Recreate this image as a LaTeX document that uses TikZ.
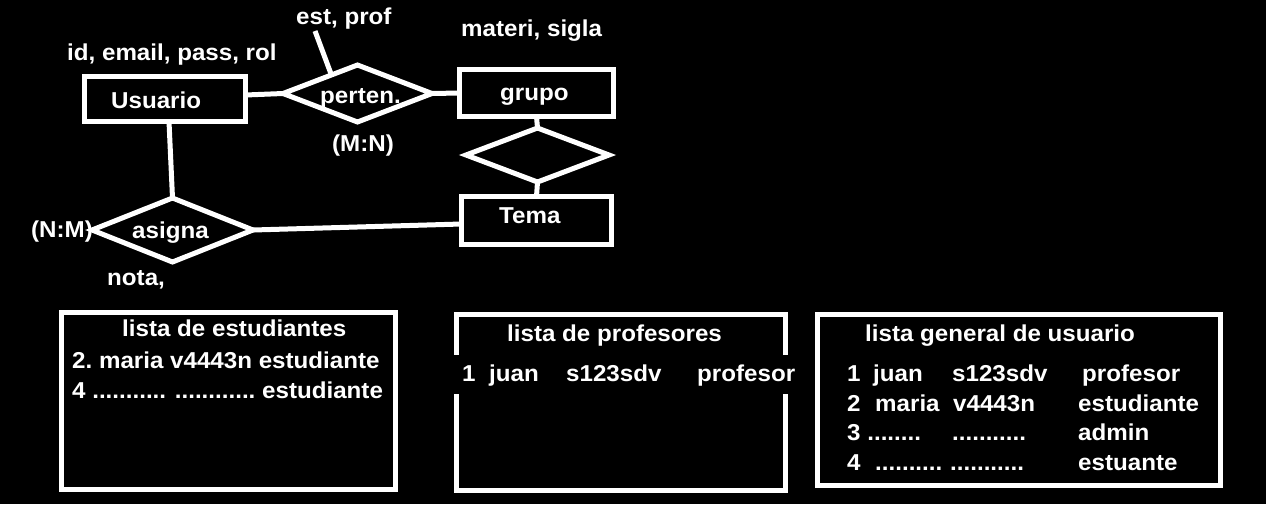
\documentclass[tikz,border=0pt]{standalone}
\usepackage{fontspec}
\setmainfont{Liberation Sans}[FakeStretch=1.05]
\usetikzlibrary{shapes.geometric,calc}
\frenchspacing
\begin{document}
\begin{tikzpicture}[x=1pt,y=-1pt,
  ln/.style={draw=white, line width=5pt},
  ent/.style={draw=white, line width=5pt, inner sep=0pt, outer sep=0pt},
  relbox/.style={shape=diamond, draw=white, line width=5pt, inner sep=0pt, outer sep=0pt},
  txt/.style={text=white, font=\bfseries\fontsize{23}{27}\selectfont, inner sep=0pt, anchor=base west},
  panel/.style={draw=white, line width=5pt, inner sep=0pt, outer sep=0pt}
]
\fill[black] (0,0) rectangle (1266,504);
\useasboundingbox (0,0) rectangle (1266,504);

% entities
\node[ent, minimum width=161pt, minimum height=45pt] (usuario) at (165,99) {};
\node[ent, minimum width=154pt, minimum height=47pt] (grupo) at (536.5,93) {};
\node[ent, minimum width=150pt, minimum height=48pt] (tema) at (536.5,220.5) {};

% relationships
\node[relbox, aspect=2.6, minimum width=149pt, minimum height=57pt] (perten) at (357.5,93.5) {};
\node[relbox, aspect=2.5, minimum width=161pt, minimum height=64pt] (asigna) at (172.5,230) {};
\node[relbox, aspect=2.65, minimum width=143pt, minimum height=54pt] (relgt) at (537.5,155) {};

% connectors
\draw[ln] ([yshift=4pt]usuario.east) -- (perten.west);
\draw[ln] (perten.east) -- (grupo.west);
\coordinate (epend) at (315,31);
\draw[ln] (epend) -- ($(perten.west)!0.65!(perten.north)$);
\draw[ln] (grupo.south) -- (relgt.north);
\draw[ln] (relgt.south) -- (tema.north);
\draw[ln] ([xshift=4pt]usuario.south) -- (asigna.north);
\draw[ln] (asigna.east) -- ([yshift=-3.5pt]tema.west);

% labels of diagram
\node[txt] (tusuario) at (111,108) {Usuario};
\node[txt] (tgrupo) at (500,100) {grupo};
\node[txt] (ttema) at (499,223) {Tema};
\node[txt] (tperten) at (320,103) {perten.};
\node[txt] (tasigna) at (132,238) {asigna};
\node[txt] (attu) at (67,60) {id, email, pass, rol};
\node[txt] (attp) at (296,24) {est, prof};
\node[txt] (attg) at (461,36) {materi, sigla};
\node[txt] (cardp) at (332,151) {(M:N)};
\node[txt] (carda) at (31,237) {(N:M)};
\node[txt] (atta) at (107,285) {nota,};

% panels
\node[panel, minimum width=334pt, minimum height=177pt] (pest) at (228.5,401) {};
\node[panel, minimum width=329pt, minimum height=176pt] (pprof) at (621,402.5) {};
\node[panel, minimum width=403pt, minimum height=171pt] (pgen) at (1019,400) {};
\node[fill=black, inner sep=0pt, minimum width=345pt, minimum height=39pt, anchor=west] (pmask) at (450,374.5) {};

% panel 1
\node[txt] (t1) at (122,336) {lista de estudiantes};
\node[txt] (e1) at (72,368.5) {2. maria v4443n estudiante};
\node[txt] (e2) at (72,398.5) {4 ........... \hspace{2pt}............ estudiante};

% panel 2
\node[txt] (t2) at (507,341.5) {lista de profesores};
\node[txt] (p1) at (462,381.5) {1};
\node[txt] (p2) at (489,381.5) {juan};
\node[txt] (p3) at (566,381.5) {s123sdv};
\node[txt] (p4) at (697,381.5) {profesor};

% panel 3
\node[txt] (t3) at (865,341.5) {lista general de usuario};
\node[txt] (g11) at (847,381) {1};
\node[txt] (g12) at (873,381) {juan};
\node[txt] (g13) at (952,381) {s123sdv};
\node[txt] (g14) at (1082,381) {profesor};
\node[txt] (g21) at (847,411) {2};
\node[txt] (g22) at (875,411) {maria};
\node[txt] (g23) at (953,411) {v4443n};
\node[txt] (g24) at (1078,411) {estudiante};
\node[txt] (g31) at (847,440.5) {3 ........};
\node[txt] (g33) at (952,440.5) {...........};
\node[txt] (g34) at (1078,440.5) {admin};
\node[txt] (g41) at (847,470) {4};
\node[txt] (g42) at (875,470) {..........};
\node[txt] (g43) at (950,470) {...........};
\node[txt] (g44) at (1078,470) {estuante};
\end{tikzpicture}
\end{document}
